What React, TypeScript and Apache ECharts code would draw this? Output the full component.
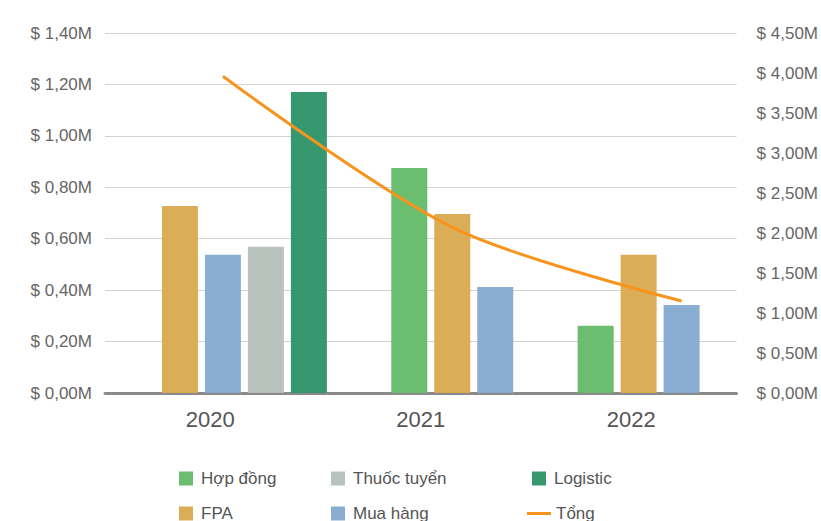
import React, { useEffect, useRef } from "react";
import * as echarts from "echarts";

// ---- data (values in millions of $) ----
const years = ["2020", "2021", "2022"];
const hopDong = [null, 0.875, 0.262];
const fpa = [0.727, 0.696, 0.538];
const muaHang = [0.538, 0.412, 0.342];
const thuocTuyen = [0.569, null, null];
const logistic = [1.171, null, null];
const tong = [3.96, 2.07, 1.15];

const seriesNames = ["Hợp đồng", "FPA", "Mua hàng", "Thuốc tuyển", "Logistic"];
const seriesValues = [hopDong, fpa, muaHang, thuocTuyen, logistic];
const seriesColors = ["#66bb6a", "#dbaa52", "#85abd1", "#b6c1bb", "#31956b"];

const FONT = "Liberation Sans, Arial, sans-serif";

export default function App() {
  const ref = useRef<HTMLDivElement>(null);

  useEffect(() => {
    document.body.style.margin = "0";
    if (!ref.current) return;
    const chart = echarts.init(ref.current, null, { renderer: "svg" });

    // layout of the packed bar groups
    const pitch = 0.1874; // distance between neighbouring bars, in year units
    const anchor = [1, 1, 2]; // which bar of each group sits on the year's point
    const xMin = -0.5142;
    const xMax = 2.2397;

    const barData: Array<Array<[number, number]>> = seriesNames.map(() => []);
    years.forEach((_, i) => {
      let k = 0;
      seriesValues.forEach((vals, s) => {
        const v = vals[i];
        if (v != null) {
          barData[s].push([i + (k - anchor[i]) * pitch, v]);
          k++;
        }
      });
    });

    const valueXAxes = seriesNames.map(() => ({
      type: "value" as const,
      show: false,
      min: xMin,
      max: xMax,
    }));

    const legendText = {
      color: "#555",
      fontSize: 17,
      fontFamily: FONT,
      lineHeight: 17,
      padding: [0, 0, 0, 3],
    };

    const row1 = 465;
    const row2 = 500;
    const legendPlace: Array<[string, number, number]> = [
      ["Hợp đồng", 174, row1],
      ["Thuốc tuyển", 326, row1],
      ["Logistic", 527, row1],
      ["FPA", 174, row2],
      ["Mua hàng", 326, row2],
    ];

    const fmt = (v: number) => "$ " + v.toFixed(2).replace(".", ",") + "M";

    chart.setOption({
      animation: false,
      grid: { left: 105, right: 84, top: 33, bottom: 128 },
      xAxis: [
        {
          type: "category",
          data: years,
          boundaryGap: true,
          axisLine: { show: true, lineStyle: { color: "#8a8a8a", width: 3 } },
          axisTick: { show: false },
          axisLabel: { color: "#555", fontSize: 22, fontFamily: FONT, margin: 15 },
          splitLine: { show: false },
          z: 1,
        },
        ...valueXAxes,
      ],
      yAxis: [
        {
          type: "value",
          min: 0,
          max: 1.4,
          interval: 0.2,
          axisLine: { show: false },
          axisTick: { show: false },
          axisLabel: { color: "#666", fontSize: 17, fontFamily: FONT, margin: 13, formatter: fmt },
          splitLine: { show: true, lineStyle: { color: "#d3d3d3", width: 1 } },
        },
        {
          type: "value",
          min: 0,
          max: 4.5,
          interval: 0.5,
          position: "right",
          axisLine: { show: false },
          axisTick: { show: false },
          axisLabel: { color: "#666", fontSize: 17, fontFamily: FONT, margin: 20, formatter: fmt },
          splitLine: { show: false },
        },
      ],
      legend: [
        ...legendPlace.map(([name, left, top]) => ({
          left,
          top,
          itemWidth: 14,
          itemHeight: 14,
          icon: "rect",
          data: [name],
          textStyle: legendText,
        })),
        {
          left: 522,
          top: row2,
          itemWidth: 24,
          itemHeight: 3,
          icon: "rect",
          data: ["Tổng"],
          textStyle: { ...legendText, padding: [0, 0, 0, 0] },
        },
      ],
      series: [
        ...seriesNames.map((name, s) => ({
          name,
          type: "bar",
          xAxisIndex: s + 1,
          yAxisIndex: 0,
          barWidth: 36,
          data: barData[s],
          itemStyle: { color: seriesColors[s], opacity: 0.97 },
          z: 2,
        })),
        {
          name: "Tổng",
          type: "line",
          xAxisIndex: 1,
          yAxisIndex: 1,
          data: tong.map((v, i) => [i, v]),
          smooth: 0.3,
          symbol: "none",
          lineStyle: { color: "#f7941d", width: 3 },
          itemStyle: { color: "#f7941d" },
          z: 5,
        },
      ],
    });

    return () => chart.dispose();
  }, []);

  return <div ref={ref} style={{ width: 821, height: 521 }} />;
}
